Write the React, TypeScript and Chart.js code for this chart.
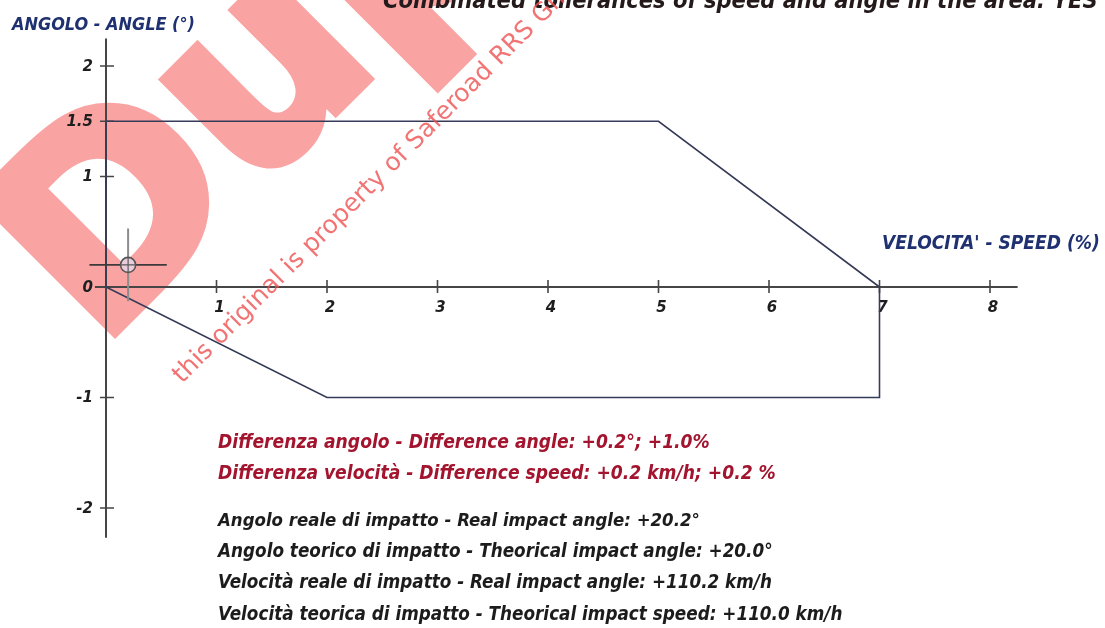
import React, { useEffect, useRef } from 'react';
import { Chart, registerables } from 'chart.js';

Chart.register(...registerables);

// ---- data ----
const zoneX = [0, 5, 7, 7, 2, 0];
const zoneY = [1.5, 1.5, 0, -1, -1, 0];
const pointX = [0.2];
const pointY = [0.2];
const errX = [0.35];
const errY = [0.33];
const xTicks = [1, 2, 3, 4, 5, 6, 7, 8];
const xTickLabels = ['1', '2', '3', '4', '5', '6', '7', '8'];
const yTicks = [2, 1.5, 1, 0, -1, -2];
const yTickLabels = ['2', '1.5', '1', '0', '-1', '-2'];
const xAxisRange = [-0.1, 8.25];
const yAxisRange = [-2.27, 2.25];

const titleText = 'Combinated tollerances of speed and angle in the area: YES';
const yAxisTitle = 'ANGOLO - ANGLE (°)';
const xAxisTitle = "VELOCITA' - SPEED (%)";
const diffLines = [
  'Differenza angolo - Difference angle: +0.2°; +1.0%',
  'Differenza velocità - Difference speed: +0.2 km/h; +0.2 %',
];
const infoLines = [
  'Angolo reale di impatto - Real impact angle: +20.2°',
  'Angolo teorico di impatto - Theorical impact angle: +20.0°',
  'Velocità reale di impatto - Real impact angle: +110.2 km/h',
  'Velocità teorica di impatto - Theorical impact speed: +110.0 km/h',
];
const watermarkBig = 'Duplicato';
const watermarkSmall = 'this original is property of Saferoad RRS GmbH';

const FAMILY = '"DejaVu Sans", Verdana, sans-serif';
const BI = 'italic bold';

function setStretch(ctx: any, v: string) {
  try {
    ctx.fontStretch = v;
  } catch (e) {
    /* ignore */
  }
}

function fitSize(ctx: CanvasRenderingContext2D, text: string, style: string, width: number) {
  ctx.font = `${style} 100px ${FAMILY}`;
  setStretch(ctx, 'condensed');
  const w = ctx.measureText(text).width;
  return (100 * width) / w;
}

function fitText(
  ctx: CanvasRenderingContext2D,
  text: string,
  x: number,
  y: number,
  width: number,
  color: string,
  style = BI
) {
  const s = fitSize(ctx, text, style, width);
  ctx.font = `${style} ${s}px ${FAMILY}`;
  setStretch(ctx, 'condensed');
  ctx.fillStyle = color;
  ctx.textAlign = 'left';
  ctx.textBaseline = 'middle';
  ctx.fillText(text, x, y);
  setStretch(ctx, 'normal');
}

const axesPlugin = {
  id: 'customAxes',
  beforeDraw(chart: any) {
    const ctx = chart.ctx as CanvasRenderingContext2D;
    // big watermark, drawn underneath
    ctx.save();
    ctx.translate(98, 349);
    ctx.rotate(-Math.PI / 4);
    ctx.font = `bold 262px ${FAMILY}`;
    ctx.fillStyle = '#f9a3a3';
    ctx.strokeStyle = '#f9a3a3';
    ctx.lineWidth = 10;
    ctx.lineJoin = 'miter';
    ctx.textAlign = 'left';
    ctx.textBaseline = 'alphabetic';
    ctx.strokeText(watermarkBig, 0, 0);
    ctx.fillText(watermarkBig, 0, 0);
    ctx.restore();
  },
  beforeDatasetsDraw(chart: any) {
    const ctx = chart.ctx as CanvasRenderingContext2D;
    const xs = chart.scales.x;
    const ys = chart.scales.y;
    const x0 = xs.getPixelForValue(0);
    const y0 = ys.getPixelForValue(0);
    ctx.save();
    ctx.strokeStyle = '#464646';
    ctx.lineWidth = 2;
    ctx.beginPath();
    ctx.moveTo(xs.getPixelForValue(xAxisRange[0]), y0);
    ctx.lineTo(xs.getPixelForValue(xAxisRange[1]), y0);
    ctx.moveTo(x0, ys.getPixelForValue(yAxisRange[1]));
    ctx.lineTo(x0, ys.getPixelForValue(yAxisRange[0]));
    ctx.stroke();
    ctx.lineWidth = 1.6;
    ctx.beginPath();
    xTicks.forEach((v) => {
      const px = xs.getPixelForValue(v);
      ctx.moveTo(px, y0 - 7);
      ctx.lineTo(px, y0 + 6);
    });
    yTicks.forEach((v) => {
      if (v === 0) return;
      const py = ys.getPixelForValue(v);
      ctx.moveTo(x0 - 6, py);
      ctx.lineTo(x0 + 8, py);
    });
    ctx.stroke();

    ctx.fillStyle = '#1e1e1e';
    ctx.font = `${BI} 15px ${FAMILY}`;
    ctx.textBaseline = 'middle';
    ctx.textAlign = 'center';
    xTicks.forEach((v, i) => {
      ctx.fillText(xTickLabels[i], xs.getPixelForValue(v) + 3, y0 + 21);
    });
    ctx.textAlign = 'right';
    yTicks.forEach((v, i) => {
      ctx.fillText(yTickLabels[i], x0 - 13, ys.getPixelForValue(v) + 1);
    });
    ctx.restore();
  },
  afterDraw(chart: any) {
    const ctx = chart.ctx as CanvasRenderingContext2D;
    ctx.save();
    // title (partly cut at top)
    {
      const s = fitSize(ctx, titleText, BI, 715);
      ctx.font = `${BI} ${s}px ${FAMILY}`;
      setStretch(ctx, 'condensed');
      ctx.fillStyle = '#241a1b';
      ctx.textAlign = 'left';
      ctx.textBaseline = 'alphabetic';
      ctx.fillText(titleText, 383, 8);
      setStretch(ctx, 'normal');
    }
    fitText(ctx, yAxisTitle, 12, 25, 183, '#1f3170');
    fitText(ctx, xAxisTitle, 882, 244, 218, '#1f3170');
    const diffW = [492, 558];
    const diffY = [443, 474];
    diffLines.forEach((t, i) => fitText(ctx, t, 218, diffY[i], diffW[i], '#a3142e'));
    const infoW = [482, 555, 554, 625];
    const infoY = [521, 552, 583, 615];
    infoLines.forEach((t, i) => fitText(ctx, t, 218, infoY[i], infoW[i], '#1c1c1c'));

    // small watermark
    ctx.save();
    ctx.translate(182, 384);
    ctx.rotate(-Math.PI / 4);
    ctx.font = `25px ${FAMILY}`;
    ctx.fillStyle = 'rgba(238,80,80,0.8)';
    ctx.textAlign = 'left';
    ctx.textBaseline = 'alphabetic';
    ctx.fillText(watermarkSmall, 0, 0);
    ctx.restore();

    ctx.restore();
  },
};

export default function App() {
  const ref = useRef<HTMLCanvasElement | null>(null);
  useEffect(() => {
    if (!ref.current) return;
    const zone = zoneX.map((x, i) => ({ x, y: zoneY[i] }));
    zone.push({ x: zoneX[0], y: zoneY[0] });
    const hBar = [
      { x: pointX[0] - errX[0], y: pointY[0] },
      { x: pointX[0] + errX[0], y: pointY[0] },
    ];
    const vBar = [
      { x: pointX[0], y: pointY[0] - errY[0] },
      { x: pointX[0], y: pointY[0] + errY[0] },
    ];
    const pts = pointX.map((x, i) => ({ x, y: pointY[i] }));
    const chart = new Chart(ref.current, {
      type: 'scatter',
      data: {
        datasets: [
          {
            data: pts,
            pointStyle: 'cross',
            pointRadius: 7,
            borderColor: '#5a5a5a',
            borderWidth: 1.2,
            order: 0,
          } as any,
          {
            data: pts,
            pointStyle: 'circle',
            pointRadius: 7.5,
            backgroundColor: '#e9cddb',
            borderColor: '#555',
            borderWidth: 1.6,
            order: 1,
          } as any,
          {
            data: hBar,
            showLine: true,
            pointRadius: 0,
            borderColor: '#3e3a3c',
            borderWidth: 1.6,
            order: 2,
          } as any,
          {
            data: vBar,
            showLine: true,
            pointRadius: 0,
            borderColor: '#8c8c8c',
            borderWidth: 2,
            order: 3,
          } as any,
          {
            data: zone,
            showLine: true,
            pointRadius: 0,
            borderColor: '#363b58',
            borderWidth: 1.6,
            tension: 0,
            order: 4,
          } as any,
        ],
      },
      options: {
        responsive: false,
        animation: false,
        devicePixelRatio: 1,
        layout: { padding: { left: 50.75, right: 59.75, top: 10.75, bottom: 64.75 } },
        plugins: { legend: { display: false }, tooltip: { enabled: false }, title: { display: false } },
        events: [],
        scales: {
          x: { type: 'linear', min: -0.5, max: 8.5, display: false },
          y: { type: 'linear', min: -2.5, max: 2.5, display: false },
        },
      },
      plugins: [axesPlugin],
    } as any);
    return () => chart.destroy();
  }, []);
  return (
    <div style={{ position: 'fixed', left: 0, top: 0, width: 1105, height: 628, background: '#fff' }}>
      <canvas ref={ref} width={1105} height={628} style={{ display: 'block' }} />
    </div>
  );
}
